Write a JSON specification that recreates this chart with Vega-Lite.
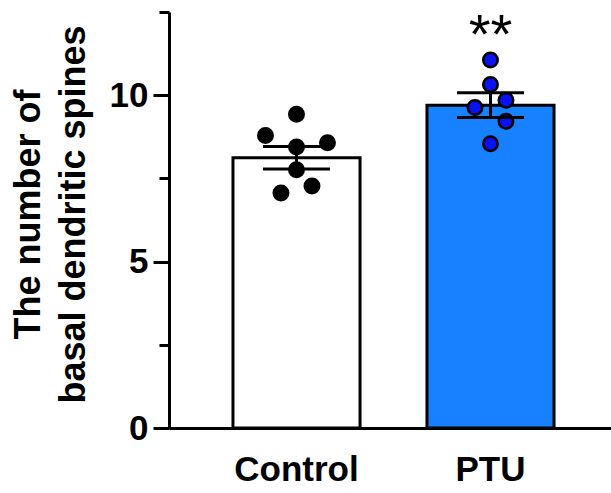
{
  "$schema": "https://vega.github.io/schema/vega-lite/v6.json",
  "width": 442,
  "height": 416,
  "autosize": "none",
  "padding": {"left": 169, "top": 12, "right": 0, "bottom": 65},
  "background": "white",
  "config": {
    "view": {"stroke": null},
    "font": "Liberation Sans"
  },
  "datasets": {
    "summary": [
      {"group": "Control", "mean": 8.12, "sem": 0.34},
      {"group": "PTU", "mean": 9.7, "sem": 0.37}
    ],
    "spines": [
      {"group": "Control", "value": 9.43, "col": 0},
      {"group": "Control", "value": 8.79, "col": -2},
      {"group": "Control", "value": 8.57, "col": 2},
      {"group": "Control", "value": 8.44, "col": 0},
      {"group": "Control", "value": 7.76, "col": 0},
      {"group": "Control", "value": 7.27, "col": 1},
      {"group": "Control", "value": 7.06, "col": -1},
      {"group": "PTU", "value": 11.06, "col": 0},
      {"group": "PTU", "value": 10.32, "col": 0},
      {"group": "PTU", "value": 9.85, "col": 1},
      {"group": "PTU", "value": 9.63, "col": -1},
      {"group": "PTU", "value": 9.22, "col": 1},
      {"group": "PTU", "value": 8.54, "col": 0}
    ]
  },
  "resolve": {"scale": {"xOffset": "independent", "fill": "independent"}},
  "encoding": {
    "x": {
      "field": "group",
      "type": "nominal",
      "sort": ["Control", "PTU"],
      "scale": {"paddingInner": 0.345, "paddingOuter": 0.3117, "align": 0.529},
      "axis": {
        "title": null,
        "labelAngle": 0,
        "ticks": false,
        "tickSize": 0,
        "labelPadding": 24,
        "labelFont": "Liberation Sans",
        "labelFontWeight": "bold",
        "labelFontSize": 35,
        "labelColor": "black",
        "domainColor": "black",
        "domainWidth": 3
      }
    }
  },
  "layer": [
    {
      "data": {"name": "summary"},
      "mark": {"type": "bar", "stroke": "black", "strokeWidth": 3, "width": {"band": 1}},
      "encoding": {
        "y": {
          "field": "mean",
          "type": "quantitative",
          "scale": {"domain": [0, 12.5], "nice": false, "zero": true},
          "axis": {
            "values": [0, 2.5, 5, 7.5, 10, 12.5],
            "labelExpr": "datum.value % 5 === 0 ? datum.label : ''",
            "grid": false,
            "domainColor": "black",
            "domainWidth": 3,
            "tickColor": "black",
            "tickWidth": 3,
            "tickSize": {"condition": {"test": "datum.value % 5 === 0", "value": 16}, "value": 10},
            "labelPadding": 5,
            "labelFont": "Liberation Sans",
            "labelFontWeight": "bold",
            "labelFontSize": 35,
            "labelColor": "black",
            "title": ["The number of", "basal dendritic spines"],
            "titleFont": "Liberation Sans",
            "titleFontWeight": "bold",
            "titleFontSize": 36,
            "titleColor": "black",
            "titleLineHeight": 45,
            "titleAngle": -90,
            "titleAlign": "center",
            "titleBaseline": "middle",
            "titleX": -141,
            "titleY": 202
          }
        },
        "fill": {
          "field": "group",
          "type": "nominal",
          "scale": {"domain": ["Control", "PTU"], "range": ["#ffffff", "#1781ff"]},
          "legend": null
        }
      }
    },
    {
      "data": {"name": "spines"},
      "mark": {"type": "point", "filled": true, "size": 210, "shape": "circle", "stroke": "black", "strokeWidth": 2.5, "opacity": 1},
      "encoding": {
        "y": {"field": "value", "type": "quantitative"},
        "xOffset": {"field": "col", "type": "quantitative", "scale": {"domain": [-2, 2], "range": [32.5, 94.5]}},
        "fill": {
          "field": "group",
          "type": "nominal",
          "scale": {"domain": ["Control", "PTU"], "range": ["#000000", "#0a12f2"]},
          "legend": null
        }
      }
    },
    {
      "data": {"name": "summary"},
      "transform": [
        {"calculate": "datum.mean - datum.sem", "as": "lo"},
        {"calculate": "datum.mean + datum.sem", "as": "hi"}
      ],
      "layer": [
        {
          "mark": {"type": "rule", "color": "black", "strokeWidth": 3},
          "encoding": {
            "y": {"field": "lo", "type": "quantitative"},
            "y2": {"field": "hi"}
          }
        },
        {
          "mark": {"type": "tick", "color": "black", "thickness": 3, "size": 67, "opacity": 1},
          "encoding": {"y": {"field": "lo", "type": "quantitative"}}
        },
        {
          "mark": {"type": "tick", "color": "black", "thickness": 3, "size": 67, "opacity": 1},
          "encoding": {"y": {"field": "hi", "type": "quantitative"}}
        }
      ]
    },
    {
      "data": {"name": "spines"},
      "transform": [
        {"filter": "datum.group === 'PTU'"},
        {"aggregate": [{"op": "max", "field": "value", "as": "top"}], "groupby": ["group"]}
      ],
      "mark": {"type": "text", "text": "**", "font": "Liberation Sans", "fontSize": 56, "fontWeight": "normal", "color": "black", "baseline": "alphabetic", "dy": -7},
      "encoding": {"y": {"field": "top", "type": "quantitative"}}
    }
  ]
}
